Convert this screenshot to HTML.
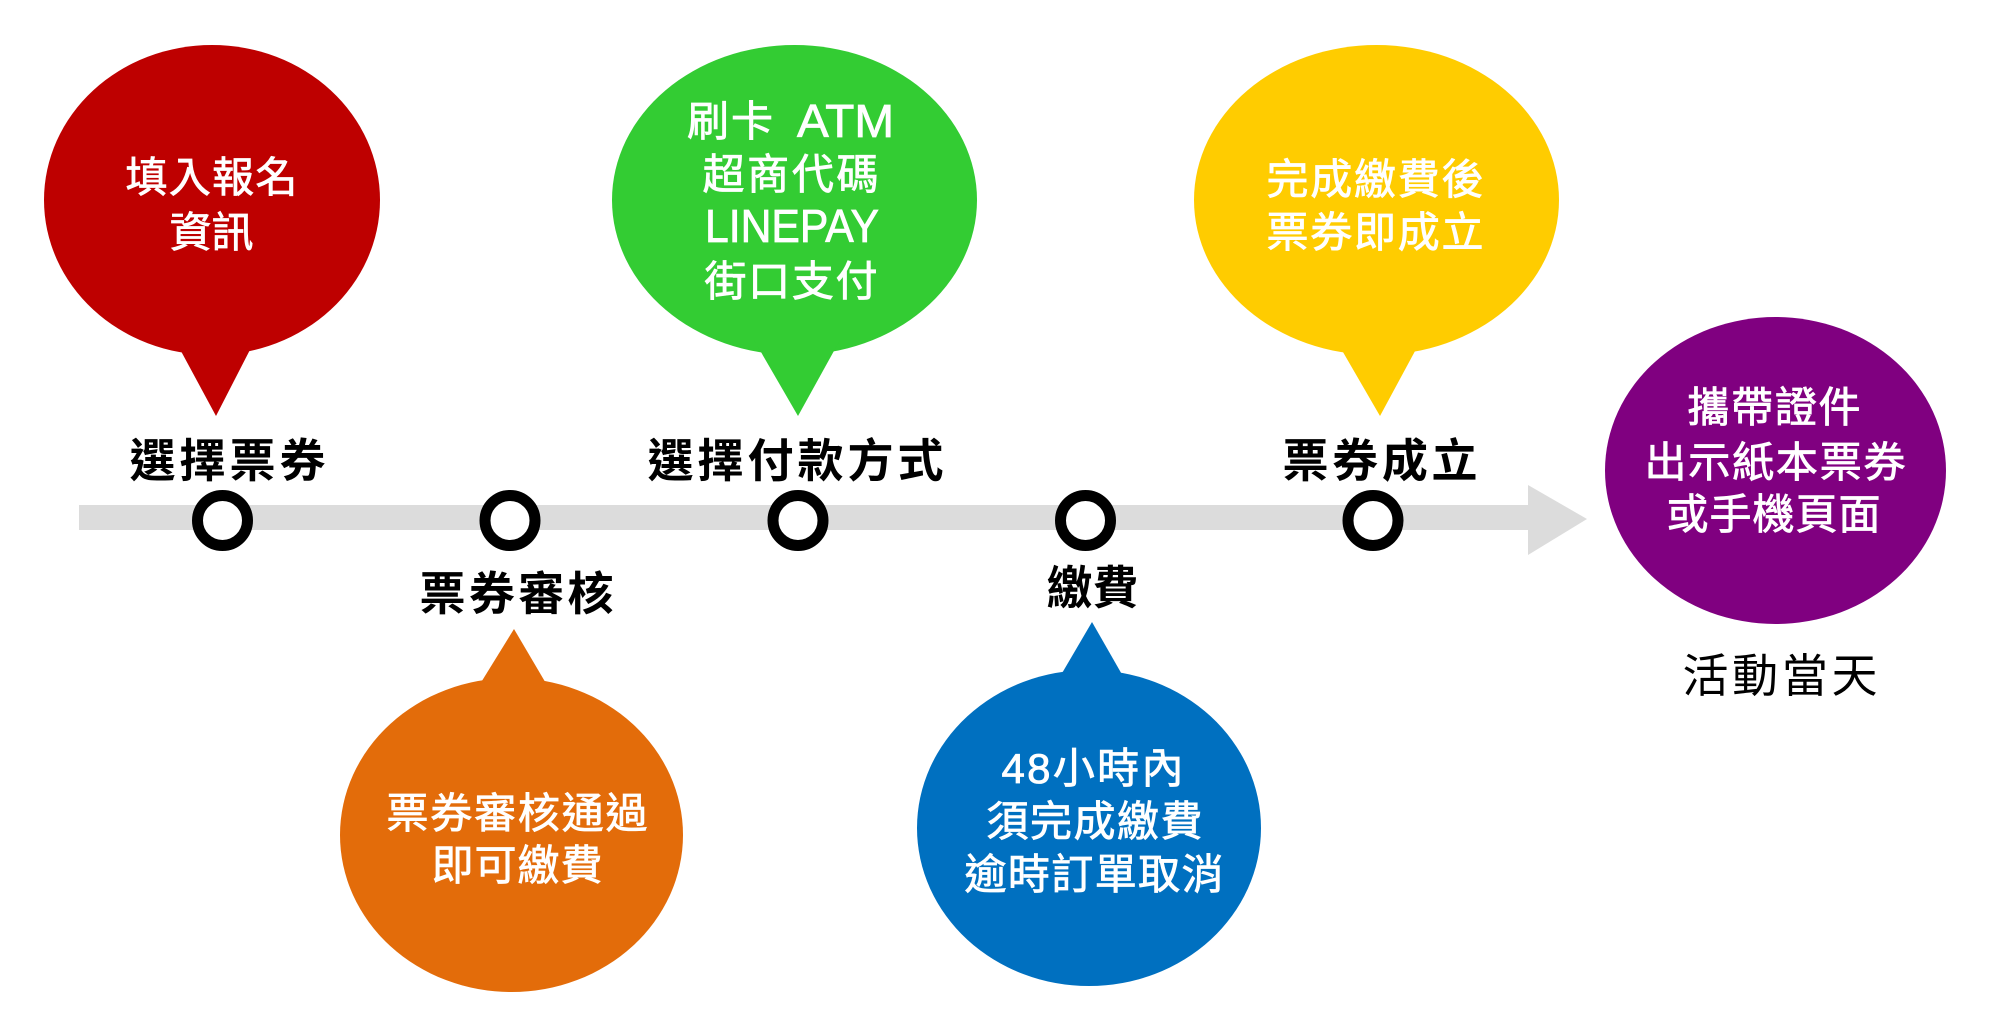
<!DOCTYPE html>
<html>
<head>
<meta charset="utf-8">
<style>
  html, body { margin:0; padding:0; background:#ffffff; }
  body { width:2000px; height:1025px; overflow:hidden; }
  svg { display:block; }
  text { font-family: "Liberation Sans", "Noto Sans CJK TC", "Noto Sans CJK SC", sans-serif; }
  .w { fill:#ffffff; font-size:42px; font-weight:normal; stroke:#ffffff; stroke-width:0.8px; }
  .lbl { fill:#000000; font-size:46px; font-weight:bold; }
  .lblr { fill:#000000; font-size:46px; font-weight:normal; }
</style>
</head>
<body>
<svg width="2000" height="1025" viewBox="0 0 2000 1025" xmlns="http://www.w3.org/2000/svg">
  <!-- timeline bar + arrow -->
  <rect x="79" y="505" width="1451" height="25" fill="#dcdcdc"/>
  <polygon points="1528,485 1587,519 1528,555" fill="#dcdcdc"/>

  <!-- circles -->
  <g fill="#ffffff" stroke="#000000" stroke-width="11">
    <circle cx="222.5" cy="520.5" r="25"/>
    <circle cx="510" cy="520.5" r="25"/>
    <circle cx="798" cy="520.5" r="25"/>
    <circle cx="1085.5" cy="520.5" r="25"/>
    <circle cx="1373" cy="520.5" r="25"/>
  </g>

  <!-- red bubble -->
  <ellipse cx="212" cy="200" rx="168" ry="155" fill="#BE0000"/>
  <polygon points="175,340 255,340 216,416" fill="#BE0000"/>
  <text class="w" x="211.5" y="192" text-anchor="middle" textLength="172">填入報名</text>
  <text class="w" x="211.5" y="247" text-anchor="middle" textLength="84">資訊</text>

  <!-- green bubble -->
  <ellipse cx="794.5" cy="200" rx="182.5" ry="155" fill="#33CC33"/>
  <polygon points="754,340 840,340 798,416" fill="#33CC33"/>
  <text class="w" x="687" y="136" textLength="86">刷卡</text>
  <text class="w" x="797" y="137" style="font-size:46px" textLength="97" lengthAdjust="spacingAndGlyphs">ATM</text>
  <text class="w" x="790.5" y="189" text-anchor="middle" textLength="176">超商代碼</text>
  <text class="w" x="705" y="242" style="font-size:46px" textLength="174" lengthAdjust="spacingAndGlyphs">LINEPAY</text>
  <text class="w" x="791" y="296" text-anchor="middle" textLength="173">街口支付</text>

  <!-- yellow bubble -->
  <ellipse cx="1376.5" cy="200" rx="182.5" ry="155" fill="#FFCC00"/>
  <polygon points="1336,340 1421,340 1380,416" fill="#FFCC00"/>
  <text class="w" x="1375" y="194" text-anchor="middle" textLength="217">完成繳費後</text>
  <text class="w" x="1375" y="247" text-anchor="middle" textLength="217">票券即成立</text>

  <!-- purple bubble -->
  <ellipse cx="1775.5" cy="470.5" rx="170.5" ry="153.5" fill="#800080"/>
  <text class="w" x="1774" y="422" text-anchor="middle" textLength="173">攜帶證件</text>
  <text class="w" x="1775" y="477" text-anchor="middle" textLength="261">出示紙本票券</text>
  <text class="w" x="1773.5" y="529" text-anchor="middle" textLength="214">或手機頁面</text>

  <!-- orange bubble -->
  <ellipse cx="511.5" cy="835" rx="171.5" ry="157" fill="#E36C0A"/>
  <polygon points="472,697 554,697 514,629" fill="#E36C0A"/>
  <text class="w" x="517" y="828" text-anchor="middle" textLength="261">票券審核通過</text>
  <text class="w" x="517" y="880" text-anchor="middle" textLength="171">即可繳費</text>

  <!-- blue bubble -->
  <ellipse cx="1089" cy="828" rx="172" ry="158" fill="#0070C0"/>
  <polygon points="1051,692 1132,692 1092,622" fill="#0070C0"/>
  <text class="w" x="1092.5" y="783" text-anchor="middle" textLength="182">48小時內</text>
  <text class="w" x="1094.5" y="836" text-anchor="middle" textLength="216">須完成繳費</text>
  <text class="w" x="1094" y="889" text-anchor="middle" textLength="259">逾時訂單取消</text>

  <!-- step labels -->
  <text class="lbl" x="227.5" y="477" text-anchor="middle" textLength="196">選擇票券</text>
  <text class="lbl" x="795.5" y="477" text-anchor="middle" textLength="296">選擇付款方式</text>
  <text class="lbl" x="1380" y="477" text-anchor="middle" textLength="195">票券成立</text>
  <text class="lbl" x="516.5" y="610" text-anchor="middle" textLength="194">票券審核</text>
  <text class="lbl" x="1092.5" y="604" text-anchor="middle" textLength="92">繳費</text>
  <text class="lblr" x="1780" y="692" text-anchor="middle" textLength="195">活動當天</text>
</svg>
</body>
</html>
